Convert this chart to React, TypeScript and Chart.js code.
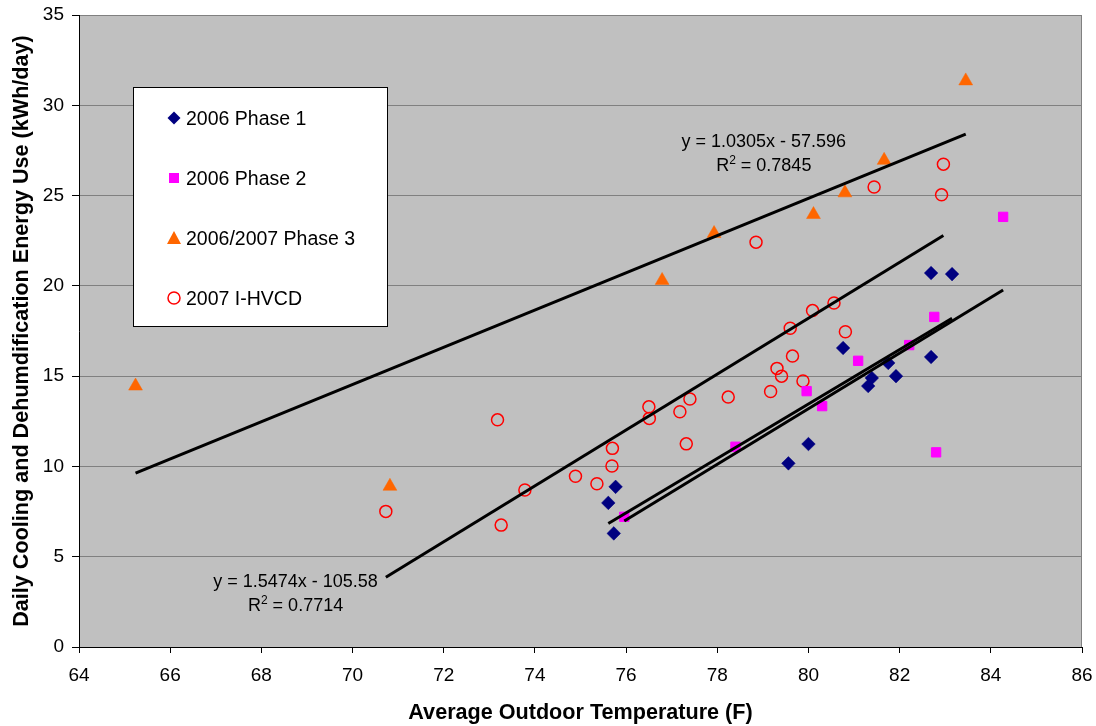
import React, { useEffect, useRef } from "react";
import { Chart, registerables } from "chart.js";

Chart.register(...registerables);

const FONT = "'Liberation Sans', Arial, sans-serif";

const seriesNames = ["2006 Phase 1", "2006 Phase 2", "2006/2007 Phase 3", "2007 I-HVCD"];

const phase1X = [75.77, 75.61, 75.73, 79.56, 80.0, 80.76, 81.75, 81.39, 81.31, 81.92, 82.69, 82.69, 83.15];
const phase1Y = [8.87, 7.98, 6.29, 10.17, 11.24, 16.56, 15.73, 14.9, 14.45, 15.0, 16.06, 20.71, 20.65];

const phase2X = [75.96, 78.4, 79.96, 80.3, 81.09, 82.21, 82.76, 82.8, 84.27];
const phase2Y = [7.21, 11.09, 14.17, 13.34, 15.85, 16.72, 18.28, 10.78, 23.82];

const phase3X = [65.24, 70.82, 76.79, 77.93, 80.11, 80.8, 81.66, 83.45];
const phase3Y = [14.45, 8.9, 20.3, 22.9, 23.95, 25.15, 26.95, 31.35];

const hvcdX = [70.73, 73.18, 73.26, 73.78, 74.89, 75.36, 75.69, 75.7, 76.5, 76.51, 77.18, 77.4, 77.32, 78.24, 79.17, 79.41, 79.31, 79.65, 79.88, 79.6, 80.09, 80.56, 80.81, 78.85, 81.44, 82.92, 82.96];
const hvcdY = [7.51, 12.58, 6.75, 8.69, 9.46, 9.04, 10.02, 11.0, 13.3, 12.66, 13.03, 13.73, 11.25, 13.84, 14.15, 15.0, 15.43, 16.11, 14.73, 17.65, 18.63, 19.05, 17.46, 22.42, 25.47, 25.04, 26.74];

// Linear trendlines (slope, intercept) per series
const trendSlopes = [1.5066, 1.539, 1.0305, 1.5474];
const trendIntercepts = [-107.07, -109.92, -57.596, -105.58];

// Trendline equation labels
const eqLines = ["y = 1.0305x - 57.596", "y = 1.5474x - 105.58"];
const r2Values = ["0.7845", "0.7714"];

const xTickMin = 64;
const xTickMax = 86;
const xTickStep = 2;
const yTickMin = 0;
const yTickMax = 35;
const yTickStep = 5;

const xTitle = "Average Outdoor Temperature (F)";
const yTitle = "Daily Cooling and Dehumdification Energy Use (kWh/day)";

const colors = ["#000080", "#FF00FF", "#FF6600", "#FF0000"];

const allX = [phase1X, phase2X, phase3X, hvcdX];
const allY = [phase1Y, phase2Y, phase3Y, hvcdY];

function pts(xs: number[], ys: number[]) {
  return xs.map((x, i) => ({ x, y: ys[i] }));
}

function trendPts(i: number) {
  const xs = allX[i];
  const lo = Math.min(...xs);
  const hi = Math.max(...xs);
  return [
    { x: lo, y: trendSlopes[i] * lo + trendIntercepts[i] },
    { x: hi, y: trendSlopes[i] * hi + trendIntercepts[i] },
  ];
}

const bgPlugin = {
  id: "plotBg",
  beforeDraw(chart: any) {
    const { ctx, chartArea: a } = chart;
    ctx.save();
    ctx.fillStyle = "#C0C0C0";
    ctx.fillRect(a.left, a.top, a.right - a.left, a.bottom - a.top);
    ctx.strokeStyle = "#808080";
    ctx.lineWidth = 1;
    ctx.beginPath();
    ctx.moveTo(Math.round(a.right) - 0.5, a.top);
    ctx.lineTo(Math.round(a.right) - 0.5, a.bottom);
    ctx.stroke();
    ctx.restore();
  },
};

function drawMarker(ctx: CanvasRenderingContext2D, kind: number, x: number, y: number) {
  ctx.save();
  ctx.fillStyle = colors[kind];
  ctx.strokeStyle = colors[kind];
  ctx.beginPath();
  if (kind === 0) {
    const r = 6.5;
    ctx.moveTo(x - r, y);
    ctx.lineTo(x, y - r);
    ctx.lineTo(x + r, y);
    ctx.lineTo(x, y + r);
    ctx.closePath();
    ctx.fill();
  } else if (kind === 1) {
    ctx.rect(x - 5, y - 5, 10, 10);
    ctx.fill();
  } else if (kind === 2) {
    ctx.moveTo(x, y - 7);
    ctx.lineTo(x + 7, y + 6);
    ctx.lineTo(x - 7, y + 6);
    ctx.closePath();
    ctx.fill();
  } else {
    ctx.lineWidth = 1.5;
    ctx.arc(x, y, 6, 0, Math.PI * 2);
    ctx.stroke();
  }
  ctx.restore();
}

const overlayPlugin = {
  id: "overlay",
  afterDraw(chart: any) {
    const { ctx, chartArea: a, scales } = chart;
    ctx.save();
    // Legend box
    const lx = a.left + 54;
    const ly = a.top + 72;
    const lw = 254;
    const lh = 239;
    ctx.fillStyle = "#FFFFFF";
    ctx.fillRect(lx, ly, lw, lh);
    ctx.strokeStyle = "#000000";
    ctx.lineWidth = 1;
    ctx.strokeRect(lx + 0.5, ly + 0.5, lw, lh);
    ctx.font = `19.5px ${FONT}`;
    ctx.textBaseline = "alphabetic";
    ctx.textAlign = "left";
    seriesNames.forEach((name, i) => {
      const cy = ly + 31 + i * 60;
      drawMarker(ctx, i, lx + 41, cy);
      ctx.fillStyle = "#000000";
      ctx.fillText(name, lx + 53, cy + 7);
    });

    // Trendline equations
    const drawEq = (eq: string, r2: string, cxVal: number, yVal: number) => {
      const cx = scales.x.getPixelForValue(cxVal);
      const by = scales.y.getPixelForValue(yVal);
      ctx.fillStyle = "#000000";
      ctx.font = `18px ${FONT}`;
      ctx.textAlign = "center";
      ctx.fillText(eq, cx, by);
      // R^2 line
      ctx.textAlign = "left";
      const rW = ctx.measureText("R").width;
      const rest = " = " + r2;
      const restW = ctx.measureText(rest).width;
      ctx.font = `12px ${FONT}`;
      const supW = ctx.measureText("2").width;
      const total = rW + supW + restW;
      let x0 = cx - total / 2;
      const by2 = by + 24;
      ctx.font = `18px ${FONT}`;
      ctx.fillText("R", x0, by2);
      x0 += rW;
      ctx.font = `12px ${FONT}`;
      ctx.fillText("2", x0, by2 - 7);
      x0 += supW;
      ctx.font = `18px ${FONT}`;
      ctx.fillText(rest, x0, by2);
    };
    drawEq(eqLines[0], r2Values[0], 79.02, 27.7);
    drawEq(eqLines[1], r2Values[1], 68.75, 3.31);
    ctx.restore();
  },
};

export default function App() {
  const ref = useRef<HTMLCanvasElement | null>(null);
  useEffect(() => {
    if (!ref.current) return;
    const scatterStyles = [
      { pointStyle: "rectRot", pointRadius: 6.8, borderWidth: 0.5, backgroundColor: colors[0], borderColor: colors[0] },
      { pointStyle: "rect", pointRadius: 6.6, borderWidth: 1, backgroundColor: colors[1], borderColor: colors[1] },
      { pointStyle: "triangle", pointRadius: 8, borderWidth: 0.5, backgroundColor: colors[2], borderColor: colors[2] },
      { pointStyle: "circle", pointRadius: 6, borderWidth: 1.5, backgroundColor: "rgba(0,0,0,0)", borderColor: colors[3] },
    ];
    const datasets: any[] = [];
    seriesNames.forEach((name, i) => {
      datasets.push({
        type: "scatter",
        label: name,
        data: pts(allX[i], allY[i]),
        order: 2,
        ...scatterStyles[i],
        pointBorderWidth: scatterStyles[i].borderWidth,
        pointHoverRadius: scatterStyles[i].pointRadius,
      });
    });
    seriesNames.forEach((name, i) => {
      datasets.push({
        type: "scatter",
        label: "Linear (" + name + ")",
        data: trendPts(i),
        showLine: true,
        borderColor: "#000000",
        borderWidth: 3,
        pointRadius: 0,
        pointHoverRadius: 0,
        order: 1,
      });
    });

    const chart = new Chart(ref.current, {
      type: "scatter",
      data: { datasets },
      plugins: [bgPlugin, overlayPlugin],
      options: {
        animation: false,
        responsive: true,
        maintainAspectRatio: false,
        layout: { padding: { left: 0, top: 15, right: 14, bottom: 0 } },
        plugins: {
          legend: { display: false },
          tooltip: { enabled: false },
        },
        scales: {
          x: {
            type: "linear",
            min: xTickMin,
            max: xTickMax,
            ticks: {
              stepSize: xTickStep,
              color: "#000000",
              font: { family: FONT, size: 19 },
              padding: 11,
              maxRotation: 0,
            },
            grid: {
              drawOnChartArea: false,
              drawTicks: true,
              tickLength: 6,
              tickColor: "#000000",
              color: "#000000",
            },
            border: { display: true, color: "#000000", width: 1 },
            title: {
              display: true,
              text: xTitle,
              color: "#000000",
              font: { family: FONT, size: 21.6, weight: "bold" },
              padding: { top: 4, bottom: 0 },
            },
            afterFit(scale: any) {
              scale.height = 79;
              scale.paddingLeft = 0;
              scale.paddingRight = 0;
            },
          },
          y: {
            type: "linear",
            min: yTickMin,
            max: yTickMax,
            ticks: {
              stepSize: yTickStep,
              color: "#000000",
              font: { family: FONT, size: 19 },
              padding: 8,
            },
            grid: {
              color: "#808080",
              lineWidth: 1,
              tickLength: 7,
              tickColor: "#000000",
            },
            border: { display: true, color: "#000000", width: 1 },
            title: {
              display: true,
              text: yTitle,
              color: "#000000",
              font: { family: FONT, size: 21.6, weight: "bold" },
              padding: { top: 9, bottom: 0 },
            },
            afterFit(scale: any) {
              scale.width = 79;
              scale.paddingTop = 0;
              scale.paddingBottom = 0;
            },
          },
        },
      } as any,
    });
    return () => chart.destroy();
  }, []);

  return (
    <div style={{ position: "fixed", left: 0, top: 0, width: 1096, height: 726, background: "#FFFFFF" }}>
      <canvas ref={ref} />
    </div>
  );
}
